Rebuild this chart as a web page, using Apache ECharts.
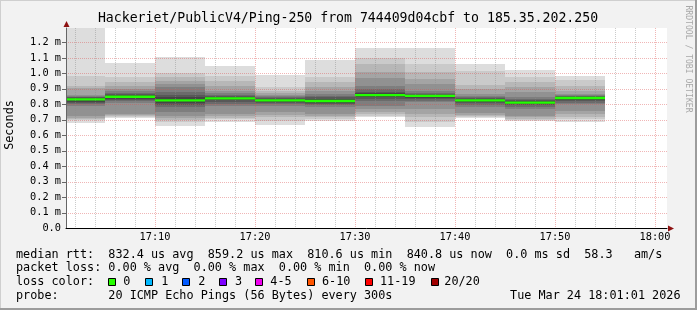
<!DOCTYPE html>
<html><head><meta charset="utf-8">
<script src="https://cdn.jsdelivr.net/npm/echarts@6/dist/echarts.min.js"></script>
<style>html,body{margin:0;padding:0;background:#f2f2f2}#c{width:697px;height:310px}</style>
</head><body><div id="c"></div>
<script>
// ---- data (times in minutes after 17:00, latency in ms) ----
const intervalEnds = [5, 10, 15, 20, 25, 30, 35, 40, 45, 50, 55];
const medians = [0.8314, 0.8490, 0.8250, 0.8380, 0.8250, 0.8210, 0.8592, 0.8545, 0.8250, 0.8106, 0.8408];
const pings01 = [0.677,0.698,0.705,0.712,0.726,0.790,0.800,0.808,0.815,0.826,0.836,0.840,0.845,0.850,0.855,0.862,0.905,0.920,0.985,1.400];
const pings02 = [0.709,0.720,0.725,0.730,0.737,0.808,0.818,0.828,0.836,0.843,0.855,0.862,0.868,0.875,0.884,0.899,0.920,0.942,0.974,1.065];
const pings03 = [0.662,0.683,0.700,0.712,0.726,0.752,0.785,0.797,0.808,0.818,0.832,0.845,0.858,0.877,0.910,0.931,0.953,0.974,1.000,1.103];
const pings04 = [0.683,0.705,0.712,0.725,0.737,0.791,0.803,0.815,0.828,0.835,0.841,0.846,0.852,0.860,0.870,0.888,0.920,0.953,0.981,1.047];
const pings05 = [0.666,0.694,0.716,0.730,0.748,0.791,0.800,0.808,0.815,0.821,0.829,0.833,0.838,0.845,0.853,0.862,0.870,0.888,0.910,0.991];
const pings06 = [0.689,0.705,0.715,0.725,0.737,0.780,0.793,0.802,0.810,0.816,0.826,0.835,0.845,0.856,0.866,0.888,0.910,0.942,0.974,1.088];
const pings07 = [0.716,0.726,0.737,0.750,0.770,0.791,0.823,0.835,0.845,0.854,0.864,0.870,0.877,0.899,0.920,0.968,1.011,1.060,1.097,1.166];
const pings08 = [0.655,0.683,0.716,0.737,0.770,0.817,0.822,0.832,0.842,0.851,0.858,0.862,0.868,0.875,0.888,0.931,0.963,1.011,1.060,1.166];
const pings09 = [0.709,0.718,0.726,0.733,0.744,0.780,0.795,0.806,0.813,0.821,0.829,0.833,0.838,0.845,0.855,0.866,0.899,0.925,1.017,1.062];
const pings10 = [0.690,0.698,0.705,0.715,0.726,0.770,0.785,0.792,0.800,0.807,0.815,0.820,0.826,0.835,0.845,0.877,0.910,0.942,0.974,1.024];
const pings11 = [0.683,0.705,0.716,0.740,0.759,0.802,0.810,0.820,0.830,0.838,0.844,0.847,0.851,0.855,0.860,0.866,0.888,0.920,0.959,0.981];
const pingsByInterval = [pings01,pings02,pings03,pings04,pings05,pings06,pings07,pings08,pings09,pings10,pings11];

const xMajorTicks = [10, 20, 30, 40, 50, 60];
const xTickLabels = ['17:10', '17:20', '17:30', '17:40', '17:50', '18:00'];
const xMinorTicks = [2,4,6,8,12,14,16,18,22,24,26,28,32,34,36,38,42,44,46,48,52,54,56,58];
const yGridValues = [0.1,0.2,0.3,0.4,0.5,0.6,0.7,0.8,0.9,1.0,1.1,1.2];
const yTickLabels = ['0.0','0.1 m','0.2 m','0.3 m','0.4 m','0.5 m','0.6 m','0.7 m','0.8 m','0.9 m','1.0 m','1.1 m','1.2 m'];

const lossLabels = ['0','1','2','3','4-5','6-10','11-19','20/20'];
const lossColors = ['#26ff00','#00b8ff','#0059ff','#7e00ff','#ee00ee','#ff5500','#ff0000','#a10000'];

const legendLines = [
  'median rtt:  832.4 us avg  859.2 us max  810.6 us min  840.8 us now  0.0 ms sd  58.3   am/s',
  'packet loss: 0.00 % avg  0.00 % max  0.00 % min  0.00 % now',
  'loss color:',
  'probe:       20 ICMP Echo Pings (56 Bytes) every 300s'
];
const dateText = 'Tue Mar 24 18:01:01 2026';
const titleText = 'Hackeriet/PublicV4/Ping-250 from 744409d04cbf to 185.35.202.250';

// ---- layout / style ----
const X_MIN = 1.1, X_MAX = 61.2, Y_MAX = 1.293, STEP = 5;
const GRID = {left: 66, top: 28, width: 601, height: 200};
const FONT = "'DejaVu Sans Mono', monospace";
const smokePalette = ['#dddddd','#cacaca','#b7b7b7','#a4a4a4','#919191','#7e7e7e','#6b6b6b','#585858','#454545','#323232'];
const MAJOR_GRID = 'rgba(220,80,80,0.42)';
const MINOR_GRID = 'rgba(140,140,140,0.45)';

const chart = echarts.init(document.getElementById('c'), null, {renderer: 'canvas'});

const series = [];
for (let k = 0; k < 10; k++) {
  series.push({
    type: 'custom', z: 2 + k * 0.01, silent: true,
    data: intervalEnds.map((e, i) => [e - STEP, e, pingsByInterval[i][k], pingsByInterval[i][19 - k]]),
    encode: {x: [0, 1], y: [2, 3]},
    renderItem: (function (color) {
      return function (params, api) {
        const x0 = Math.max(api.value(0), X_MIN), x1 = Math.min(api.value(1), X_MAX);
        const lo = Math.max(api.value(2), 0), hi = Math.min(api.value(3), Y_MAX);
        const a = api.coord([x0, hi]), b = api.coord([x1, lo]);
        const xa = Math.round(a[0]), xb = Math.round(b[0]);
        const ya = Math.round(a[1]), yb = Math.round(b[1]);
        return {type: 'rect', shape: {x: xa, y: ya, width: xb - xa, height: yb - ya}, style: {fill: color}};
      };
    })(smokePalette[k])
  });
}

// grid lines drawn over the smoke
series.push({
  type: 'custom', z: 5, silent: true,
  data: xMinorTicks.map(v => [v, 0]).concat(xMajorTicks.map(v => [v, 1])),
  encode: {x: 0},
  renderItem: function (params, api) {
    const v = api.value(0), major = api.value(1) === 1;
    const b = api.coord([v, 0]), t = api.coord([v, Y_MAX]);
    const x = Math.round(b[0]) + 0.5;
    return {type: 'line', shape: {x1: x, y1: t[1], x2: x, y2: b[1]},
      style: {stroke: major ? MAJOR_GRID : MINOR_GRID, lineWidth: 1, lineDash: [1, 1]}};
  }
});
series.push({
  type: 'custom', z: 5, silent: true,
  data: yGridValues.map(v => [X_MIN, v]),
  encode: {y: 1},
  renderItem: function (params, api) {
    const v = api.value(1);
    const l = api.coord([X_MIN, v]), r = api.coord([X_MAX, v]);
    const y = Math.round(l[1]) + 0.5;
    return {type: 'group', children: [
      {type: 'line', shape: {x1: l[0], y1: y, x2: r[0], y2: y},
        style: {stroke: MAJOR_GRID, lineWidth: 1, lineDash: [1, 1]}},
      {type: 'line', shape: {x1: l[0] - 4, y1: y, x2: l[0], y2: y},
        style: {stroke: '#666', lineWidth: 1}}
    ]};
  }
});
// median line
series.push({
  type: 'custom', z: 6, silent: true,
  data: intervalEnds.map((e, i) => [e - STEP, e, medians[i]]),
  encode: {x: [0, 1], y: 2},
  renderItem: function (params, api) {
    const x0 = Math.max(api.value(0), X_MIN), x1 = api.value(1);
    const a = api.coord([x0, api.value(2)]), b = api.coord([x1, api.value(2)]);
    const xa = Math.round(a[0]), xb = Math.round(b[0]);
    return {type: 'rect', shape: {x: xa, y: a[1] - 1.2, width: xb - xa, height: 2.4}, style: {fill: '#22ff00'}};
  }
});

const graphic = [
  {type: 'rect', shape: {x: 0, y: 0, width: 697, height: 1}, style: {fill: '#cfcfcf'}, silent: true},
  {type: 'rect', shape: {x: 0, y: 0, width: 1, height: 310}, style: {fill: '#cfcfcf'}, silent: true},
  {type: 'rect', shape: {x: 0, y: 308, width: 697, height: 2}, style: {fill: '#9c9c9c'}, silent: true},
  {type: 'rect', shape: {x: 695, y: 0, width: 2, height: 310}, style: {fill: '#9c9c9c'}, silent: true},
  {type: 'text', x: 348, y: 19, style: {text: titleText, font: "13.2px " + FONT, fill: '#000', align: 'center', verticalAlign: 'middle'}},
  {type: 'text', x: 10, y: 125, rotation: Math.PI / 2, style: {text: 'Seconds', font: "11.8px " + FONT, fill: '#000', align: 'center', verticalAlign: 'middle'}},
  {type: 'text', x: 688, y: 59, rotation: -Math.PI / 2, style: {text: 'RRDTOOL / TOBI OETIKER', font: "8.1px " + FONT, fill: '#a8a8a8', align: 'center', verticalAlign: 'middle'}},
  // axis arrows
  {type: 'polygon', shape: {points: [[GRID.left - 2.5, GRID.top - 1], [GRID.left + 3.5, GRID.top - 1], [GRID.left + 0.5, GRID.top - 7]]}, style: {fill: '#8e1212'}, z: 20},
  {type: 'polygon', shape: {points: [[GRID.left + GRID.width + 1, GRID.top + GRID.height - 2.5], [GRID.left + GRID.width + 1, GRID.top + GRID.height + 3.5], [GRID.left + GRID.width + 7, GRID.top + GRID.height + 0.5]]}, style: {fill: '#8e1212'}, z: 20},
  {type: 'text', x: 680.5, y: 296, style: {text: dateText, font: "11.8px " + FONT, fill: '#000', align: 'right', verticalAlign: 'middle'}}
];
const lineY = [254.7, 268.3, 282.3, 296];
legendLines.forEach((t, i) => {
  graphic.push({type: 'text', x: 16, y: lineY[i], style: {text: t, font: "11.8px " + FONT, fill: '#000', align: 'left', verticalAlign: 'middle'}});
});
const boxX = [108.5, 145.5, 182.5, 219.5, 255.5, 307.5, 365.5, 431.5];
const boxLabelX = [123.3, 161.2, 198.2, 235, 270.3, 322, 380, 444.3];
lossLabels.forEach((t, i) => {
  graphic.push({type: 'rect', shape: {x: boxX[i], y: 278.5, width: 7, height: 7}, style: {fill: lossColors[i], stroke: '#000', lineWidth: 1}});
  graphic.push({type: 'text', x: boxLabelX[i], y: 282.3, style: {text: t, font: "11.8px " + FONT, fill: '#000', align: 'left', verticalAlign: 'middle'}});
});

chart.setOption({
  animation: false,
  backgroundColor: '#f2f2f2',
  grid: Object.assign({show: true, backgroundColor: '#ffffff', borderWidth: 0}, GRID),
  xAxis: {
    type: 'value', min: X_MIN, max: X_MAX, z: 8,
    axisLine: {show: true, lineStyle: {color: '#000', width: 1}},
    axisTick: {show: false},
    splitLine: {show: false},
    axisLabel: {
      margin: 4, fontFamily: 'DejaVu Sans Mono', fontSize: 10.3, color: '#000',
      showMinLabel: true, showMaxLabel: true,
      formatter: function (v) {
        const r = Math.round(v);
        if (Math.abs(v - r) > 1e-6) return '';
        const idx = xMajorTicks.indexOf(r);
        return idx >= 0 ? xTickLabels[idx] : '';
      }
    }
  },
  yAxis: {
    type: 'value', min: 0, max: Y_MAX, interval: 0.1, z: 8,
    axisLine: {show: true, lineStyle: {color: '#666', width: 1}},
    axisTick: {show: false},
    splitLine: {show: false},
    axisLabel: {
      margin: 5, fontFamily: 'DejaVu Sans Mono', fontSize: 10.3, color: '#000',
      formatter: function (v) {
        const r = Math.round(v * 10);
        if (Math.abs(v * 10 - r) > 1e-6) return '';
        return yTickLabels[r] || '';
      }
    }
  },
  series: series,
  graphic: graphic
});
</script>
</body></html>
